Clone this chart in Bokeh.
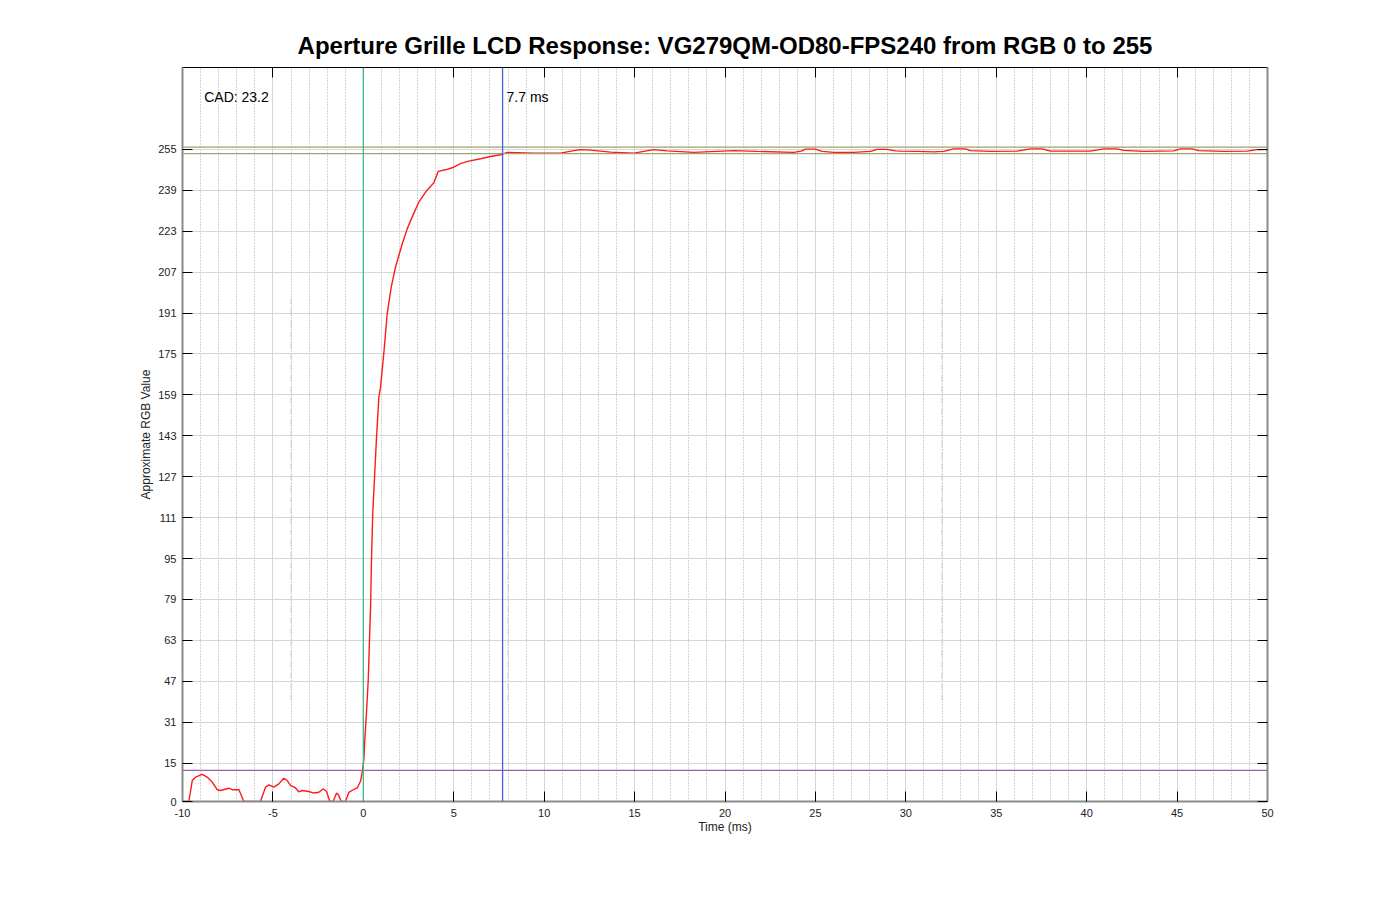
from bokeh.plotting import figure
from bokeh.models import (Span, Label, LinearAxis, FixedTicker, Range1d, ColumnDataSource)
from bokeh.embed import file_html
from bokeh.resources import INLINE

# ---------------- data ----------------
time_ms = [-10, -9.65, -9.46, -9.28, -8.91, -8.63, -8.36, -8.08, -7.9, -7.44, -7.25, -6.88,
           -6.64, -6.6, -5.69, -5.41, -5.22, -4.95, -4.67, -4.40, -4.21, -4.03, -3.75, -3.57,
           -3.38, -3.01, -2.74, -2.46, -2.22, -2.04, -1.85, -1.67, -1.48, -1.37, -1.22, -0.99,
           -0.80, -0.56, -0.34, -0.16, -0.06, 0.03, 0.08, 0.17, 0.27, 0.34, 0.40, 0.45, 0.52,
           0.62, 0.73, 0.86, 0.95, 1.13, 1.32, 1.54, 1.78, 2.15, 2.43, 2.70, 3.07, 3.44, 3.90,
           4.14, 4.54, 5.00, 5.37, 5.83, 6.48, 7.03, 7.68, 7.95, 9.42, 10.9, 11.64, 12.01,
           12.56, 13.67, 14.96, 15.51, 16.06, 16.80, 18.28, 20.49, 21.78, 23.8, 24.27, 24.45,
           25.0, 25.37, 26.02, 27.1, 28.05, 28.42, 28.97, 29.43, 29.7, 30.63, 31.55, 32.1,
           32.65, 33.30, 33.58, 34.68, 36.16, 36.89, 37.54, 38.0, 40.2, 40.95, 41.69, 42.05,
           43.16, 44.82, 45.19, 45.84, 46.2, 47.59, 48.88, 49.43, 50]
rgb_value = [0, 0, 8.2, 9.5, 10.6, 9.5, 7.6, 4.6, 4.3, 5.2, 4.6, 4.6,
             0.6, 0, 0, 5.6, 6.5, 5.6, 6.9, 9.1, 8.2, 6.3, 5.3, 3.8,
             4.3, 3.9, 3.3, 3.6, 4.9, 4.0, 0, 0, 3.3, 2.5, 0, 0,
             3.6, 4.6, 5.3, 7.8, 11.5, 16.5, 23.9, 34.3, 47.3, 63, 76, 94, 112.5,
             126.8, 142.5, 158, 162, 175, 190.7, 201, 209, 218, 224, 228.5, 234.4, 238.3, 241.9,
             246.4, 247, 248, 249.4, 250.4, 251.3, 252.2, 253, 253.8, 253.5, 253.5, 254.5, 254.9,
             254.7, 253.9, 253.5, 254.2, 254.9, 254.4, 253.8, 254.5, 254.2, 253.8, 254.4, 255.1,
             255.1, 254.2, 253.8, 253.8, 254.2, 255, 255, 254.4, 254.3, 254.2, 254.0, 254.2,
             255.2, 255.2, 254.5, 254.2, 254.3, 255.2, 255.2, 254.3, 254.3, 255.2, 255.2, 254.6,
             254.2, 254.4, 255.2, 255.2, 254.5, 254.2, 254.3, 254.9, 254.9]

y_ticks = [0, 15, 31, 47, 63, 79, 95, 111, 127, 143, 159, 175, 191, 207, 223, 239, 255]
x_ticks = [-10, -5, 0, 5, 10, 15, 20, 25, 30, 35, 40, 45, 50]
x_tick_labels = ["-10", "-5", "0", "5", "10", "15", "20", "25", "30", "35", "40", "45", "50"]
x_minor = list(range(-10, 51))

start_time = 0.0          # green cursor
end_time = 7.7            # blue cursor
upper_band = [255.9, 253.3]   # olive tolerance lines
lower_level = 12.2            # purple threshold
marker_times = [-4, 8, 32]    # faint dash-dot markers
marker_span = [39.5, 198.0]

title_text = "Aperture Grille LCD Response: VG279QM-OD80-FPS240 from RGB 0 to 255"
cad_text = "CAD: 23.2"
end_text = "7.7 ms"

FONT = "Liberation Sans"

p = figure(width=1392, height=892, output_backend="svg", toolbar_location=None,
           x_range=Range1d(-10, 50), y_range=Range1d(0, 287),
           min_border_left=182, min_border_right=125, min_border_top=67,
           min_border_bottom=91, x_axis_label="Time (ms)",
           y_axis_label="Approximate RGB Value")
p.outline_line_color = None
p.background_fill_color = "white"

p.title.text = title_text
p.title.align = "center"
p.title.text_font = FONT
p.title.text_font_size = "24px"
p.title.text_font_style = "bold"
p.title.text_color = "black"
p.title.standoff = 10

xt = FixedTicker(ticks=x_ticks, minor_ticks=x_minor)
yt = FixedTicker(ticks=y_ticks)

for ax in p.xaxis:
    ax.ticker = xt
    ax.major_label_overrides = {t: s for t, s in zip(x_ticks, x_tick_labels)}
for ax in p.yaxis:
    ax.ticker = yt

for ax in list(p.xaxis) + list(p.yaxis):
    ax.axis_line_color = "#8a8a8a"
    ax.axis_line_width = 2
    ax.major_tick_in = 10
    ax.major_tick_out = 0
    ax.major_tick_line_color = "black"
    ax.minor_tick_line_color = None
    ax.major_label_text_font = FONT
    ax.major_label_text_font_size = "11px"
    ax.major_label_text_color = "#222222"
    ax.axis_label_text_font = FONT
    ax.axis_label_text_font_size = "12px"
    ax.axis_label_text_font_style = "normal"
    ax.axis_label_text_color = "#222222"

p.xaxis.major_label_standoff = 3
p.xaxis.axis_label_standoff = 0
p.yaxis.major_label_standoff = 6
p.yaxis.axis_label_standoff = 2

top_ax = LinearAxis(ticker=xt, axis_line_color="black", axis_line_width=1,
                    major_tick_in=10, major_tick_out=0, minor_tick_line_color=None,
                    major_label_overrides={t: "" for t in x_ticks})
right_ax = LinearAxis(ticker=yt, axis_line_color="#8a8a8a", axis_line_width=2,
                      major_tick_in=10, major_tick_out=0, minor_tick_line_color=None,
                      major_label_overrides={t: "" for t in y_ticks})
p.add_layout(top_ax, "above")
p.add_layout(right_ax, "right")

p.xgrid.grid_line_color = "#d6d6d6"
p.xgrid.grid_line_width = 1
p.xgrid.minor_grid_line_color = "#a8a8a8"
p.xgrid.minor_grid_line_dash = "1 2"
p.ygrid.grid_line_color = "#d6d6d6"
p.ygrid.grid_line_width = 1

# faint dash-dot markers
seg_src = ColumnDataSource(dict(x0=marker_times, x1=marker_times,
                                y0=[marker_span[0]] * len(marker_times),
                                y1=[marker_span[1]] * len(marker_times)))
p.segment("x0", "y0", "x1", "y1", source=seg_src, line_color="#cccccc",
          line_width=1, line_dash="6 2 1 2")

for lvl in upper_band:
    p.add_layout(Span(location=lvl, dimension="width", line_color="#a0a070", line_width=1.3))
p.add_layout(Span(location=lower_level, dimension="width", line_color="#9b5fa5", line_width=1.3))
p.add_layout(Span(location=start_time, dimension="height", line_color="#3dbb80", line_width=1.3))
p.add_layout(Span(location=end_time, dimension="height", line_color="#3f63e0", line_width=1.3))

p.line(time_ms, rgb_value, line_color="#ff1a1a", line_width=1.4)

p.add_layout(Label(x=-8.8, y=275.3, text=cad_text, text_font=FONT, text_font_size="14px",
                   text_baseline="middle", text_color="black"))
p.add_layout(Label(x=end_time, y=275.3, x_offset=4, text=end_text, text_font=FONT,
                   text_font_size="14px", text_baseline="middle", text_color="black"))

open("out.html", "w").write(file_html(p, INLINE))
